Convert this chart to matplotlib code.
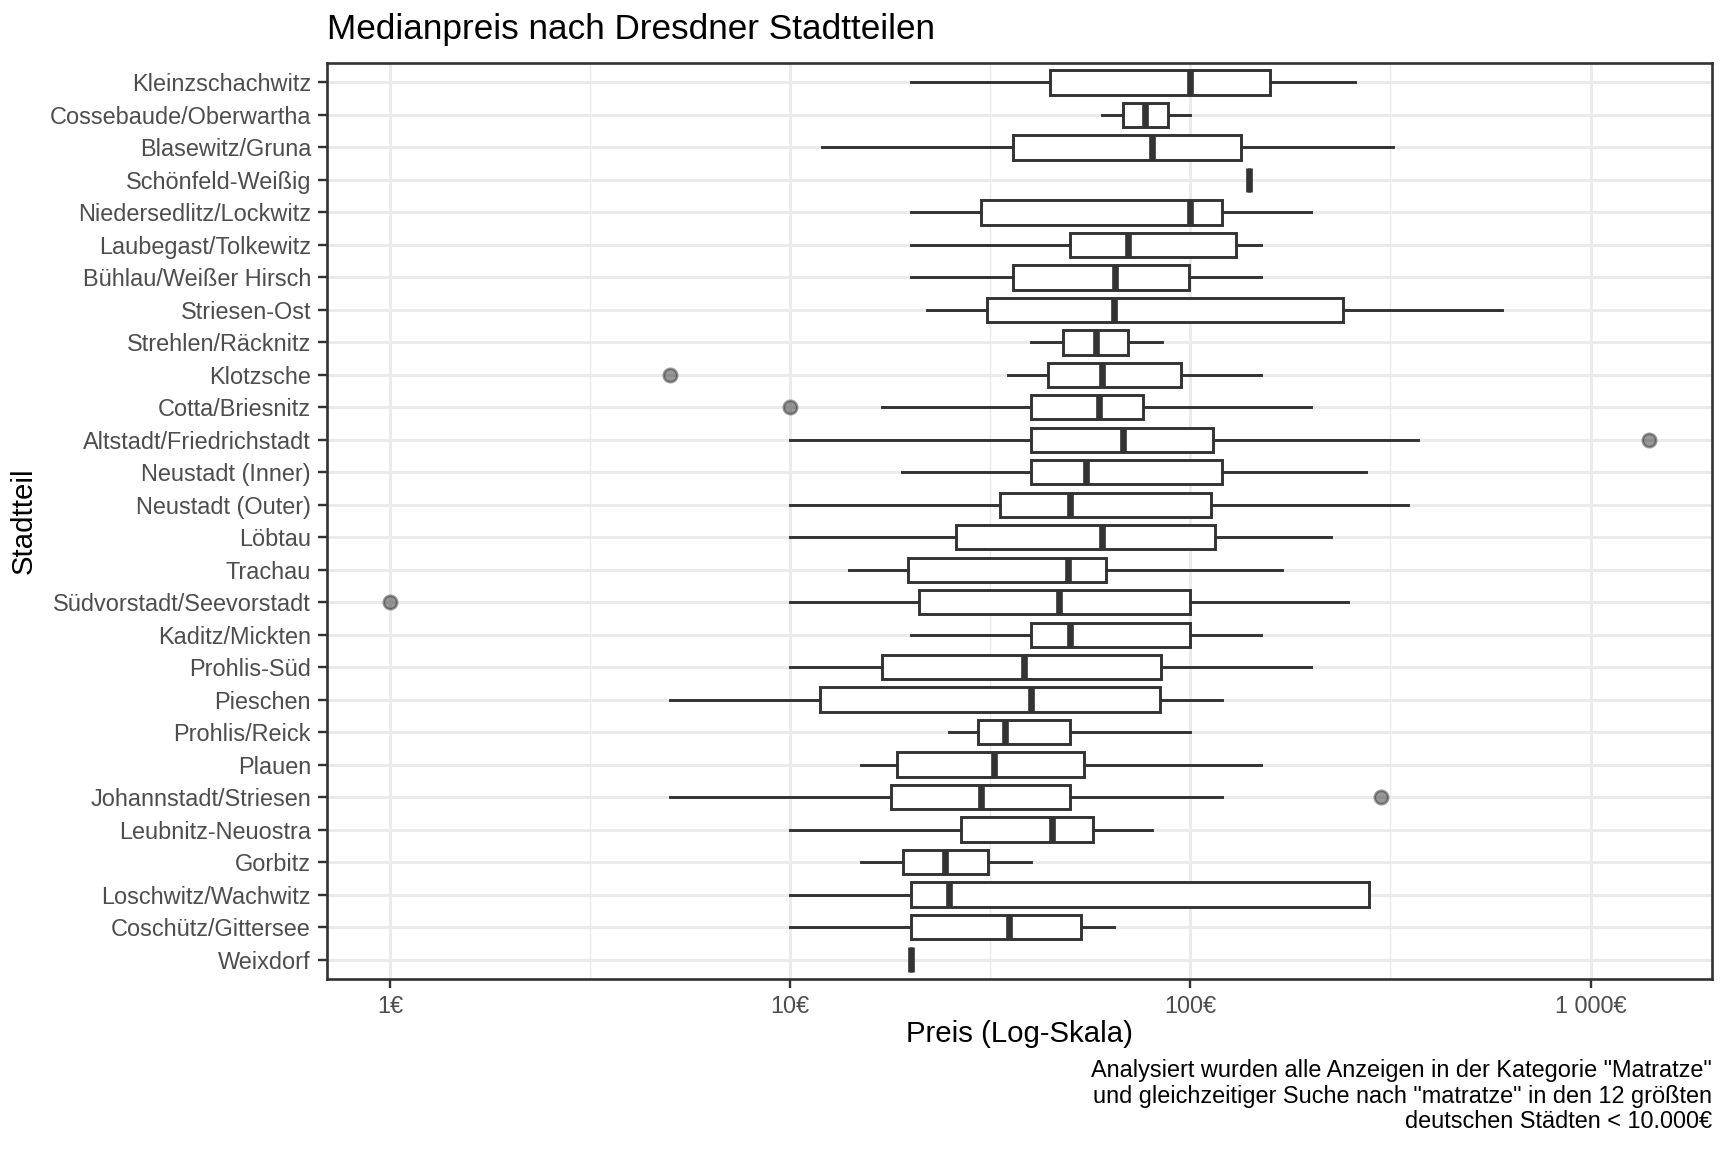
import matplotlib
matplotlib.use("Agg")
import matplotlib.pyplot as plt
import numpy as np

plt.rcParams['font.family'] = ['Liberation Sans', 'DejaVu Sans']

stadtteile = ["Kleinzschachwitz", "Cossebaude/Oberwartha", "Blasewitz/Gruna", "Schönfeld-Weißig",
              "Niedersedlitz/Lockwitz", "Laubegast/Tolkewitz", "Bühlau/Weißer Hirsch", "Striesen-Ost",
              "Strehlen/Räcknitz", "Klotzsche", "Cotta/Briesnitz", "Altstadt/Friedrichstadt",
              "Neustadt (Inner)", "Neustadt (Outer)", "Löbtau", "Trachau", "Südvorstadt/Seevorstadt",
              "Kaditz/Mickten", "Prohlis-Süd", "Pieschen", "Prohlis/Reick", "Plauen",
              "Johannstadt/Striesen", "Leubnitz-Neuostra", "Gorbitz", "Loschwitz/Wachwitz",
              "Coschütz/Gittersee", "Weixdorf"]
whisk_lo = [20, 60, 12, 140, 20, 20, 20, 22, 40, 35, 17, 10, 19, 10, 10, 14, 10, 20, 10, 5, 25, 15, 5, 10, 15, 10, 10, 20]
q1 =       [44.6, 68, 36, 140, 30, 50, 36, 31, 48, 44, 40, 40, 40, 33.5, 26, 19.7, 21, 40, 17, 11.9, 29.4, 18.5, 17.9, 26.8, 19.1, 20, 20, 20]
median =   [100, 77, 80, 140, 100, 70, 65, 64.3, 58, 60, 59, 68, 55, 50, 60, 49.5, 47, 50, 38.5, 40, 34.5, 32.3, 29.9, 45, 24.4, 25, 35.2, 20]
q3 =       [158, 88, 134, 140, 120, 130, 99, 241, 70, 95, 76, 114, 120, 112.5, 115, 61.5, 100, 100, 84.5, 84, 50, 54.3, 50, 57, 31.3, 279, 53.2, 20]
whisk_hi = [258, 100, 320, 140, 200, 150, 150, 600, 85, 150, 200, 370, 275, 350, 224, 169, 248, 150, 200, 120, 100, 150, 120, 80, 40, 279, 64.5, 20]
ausreisser = {"Klotzsche": [5], "Cotta/Briesnitz": [10], "Altstadt/Friedrichstadt": [1400],
              "Südvorstadt/Seevorstadt": [1], "Johannstadt/Striesen": [300]}

x_ticks = [1, 10, 100, 1000]
x_ticklabels = ["1€", "10€", "100€", "1 000€"]
x_minor = [10 ** 0.5, 10 ** 1.5, 10 ** 2.5]

W, H = 1728, 1152
DPI = 192
fig = plt.figure(figsize=(W / DPI, H / DPI), dpi=DPI)
left, right, top, bottom = 327, 1712, 63, 979
ax = fig.add_axes([left / W, 1 - bottom / H, (right - left) / W, (bottom - top) / H])

stats = []
for i, n in enumerate(stadtteile):
    stats.append(dict(med=median[i], q1=q1[i], q3=q3[i], whislo=whisk_lo[i], whishi=whisk_hi[i],
                      fliers=ausreisser.get(n, []), label=n))
positions = np.arange(len(stadtteile))

dark = '#333333'
kw = dict(positions=positions, widths=0.75, showcaps=False, patch_artist=True,
          boxprops=dict(facecolor='white', edgecolor=dark, linewidth=1.1),
          whiskerprops=dict(color=dark, linewidth=1.1),
          medianprops=dict(color=dark, linewidth=2.5, solid_capstyle='butt'),
          flierprops=dict(marker='o', markersize=5, markerfacecolor=dark, markeredgecolor=dark,
                          alpha=0.5, linestyle='none'),
          zorder=3)
try:
    ax.bxp(stats, orientation='horizontal', **kw)
except TypeError:
    ax.bxp(stats, vert=False, **kw)

ax.set_xscale('log')
lo_l, hi_l = 0.0, np.log10(1400)
pad = 0.05 * (hi_l - lo_l)
ax.set_xlim(10 ** (lo_l - pad), 10 ** (hi_l + pad))
ax.set_ylim(len(stadtteile) - 1 + 0.6, -0.6)

ax.set_xticks(x_ticks)
ax.set_xticklabels(x_ticklabels)
ax.set_xticks(x_minor, minor=True)
ax.xaxis.set_minor_formatter(matplotlib.ticker.NullFormatter())
ax.set_yticks(positions)
ax.set_yticklabels(stadtteile)

ax.grid(True, which='major', axis='both', color='#EBEBEB', linewidth=1.1, zorder=0)
ax.grid(True, which='minor', axis='x', color='#EBEBEB', linewidth=0.55, zorder=0)
ax.set_axisbelow(True)
for s in ax.spines.values():
    s.set_color('#333333')
    s.set_linewidth(1.0)

ax.tick_params(axis='both', which='major', colors='#333333', labelcolor='#4D4D4D',
               labelsize=8.8, length=3.5, width=0.9, pad=2.5)
ax.tick_params(axis='x', which='minor', length=0)

fig.text((left + right) / 2 / W, 1 - 1034 / H, "Preis (Log-Skala)", fontsize=11,
         ha='center', va='center', color='black')
fig.text(24 / W, 1 - (top + bottom) / 2 / H, "Stadtteil", fontsize=11, rotation=90,
         ha='center', va='center', color='black')

fig.text(left / W, 1 - 30 / H, "Medianpreis nach Dresdner Stadtteilen", fontsize=13.2,
         ha='left', va='center', color='black')
fig.text(right / W, 1 - 1096 / H,
         'Analysiert wurden alle Anzeigen in der Kategorie "Matratze"\n'
         'und gleichzeitiger Suche nach "matratze" in den 12 größten\n'
         'deutschen Städten < 10.000€',
         fontsize=8.8, ha='right', va='center', color='black', linespacing=1.15)

fig.savefig("out.png", dpi=DPI, facecolor='white')
